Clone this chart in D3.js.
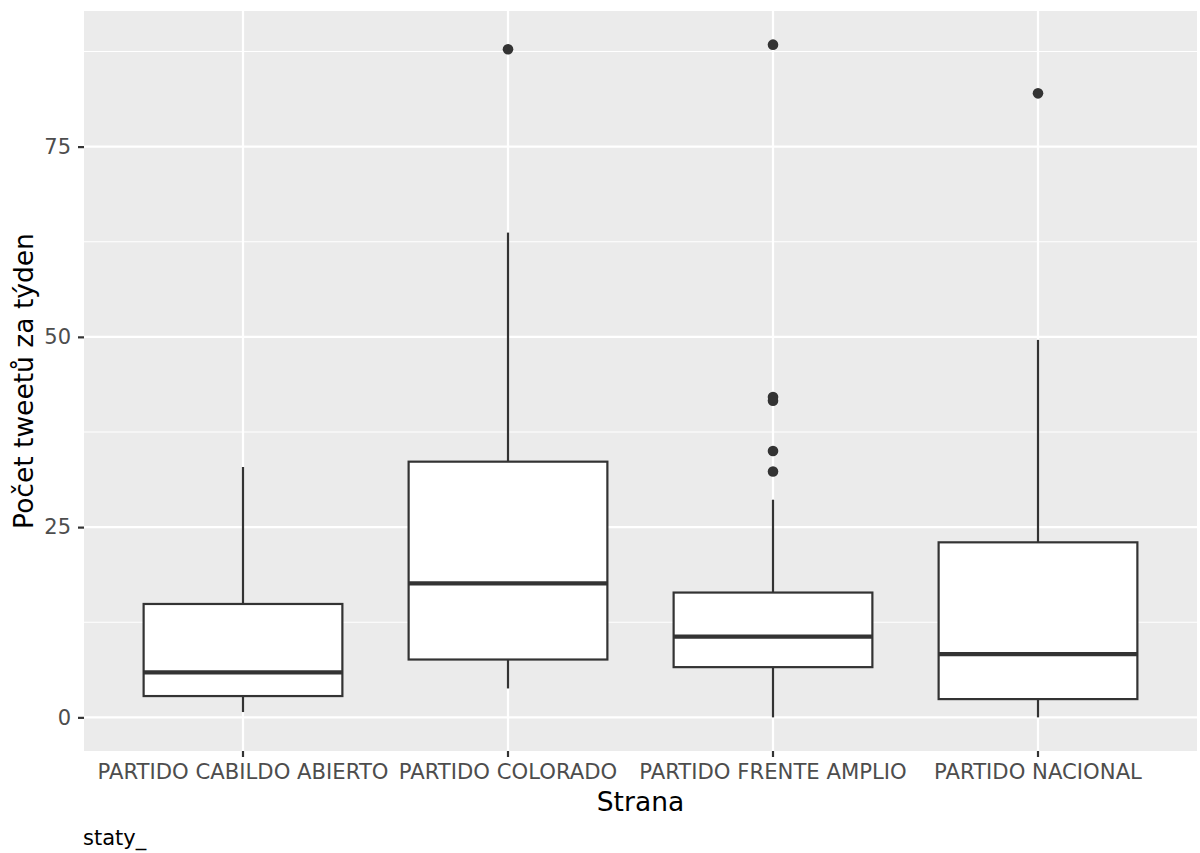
<!DOCTYPE html>
<html>
<head>
<meta charset="utf-8">
<script src="https://cdn.jsdelivr.net/npm/d3@7"></script>
<style>
  html, body { margin: 0; padding: 0; background: #ffffff; }
  svg { display: block; font-family: "DejaVu Sans", sans-serif; }
</style>
</head>
<body>
<svg id="chart" width="1200" height="853"></svg>
<script>
// ---- data ----
const categories = ["PARTIDO CABILDO ABIERTO", "PARTIDO COLORADO", "PARTIDO FRENTE AMPLIO", "PARTIDO NACIONAL"];
const whiskerLow  = [0.7, 3.8, 0.0, 0.0];
const q1          = [2.8, 7.6, 6.6, 2.4];
const median      = [5.9, 17.6, 10.6, 8.3];
const q3          = [14.9, 33.6, 16.4, 23.0];
const whiskerHigh = [32.9, 63.7, 28.6, 49.6];
const outliers    = [[], [87.8], [32.3, 35.0, 41.6, 42.1, 88.4], [82.0]];
const yTicks      = [0, 25, 50, 75];
const yMinor      = [12.5, 37.5, 62.5, 87.5];
const xTitle = "Strana";
const yTitle = "Počet tweetů za týden";
const caption = "staty_";

// ---- layout ----
const panel = { left: 84, right: 1197, top: 11, bottom: 751 };
const svg = d3.select("#chart");

const allVals = whiskerLow.concat(whiskerHigh, outliers.flat());
const dmin = d3.min(allVals), dmax = d3.max(allVals);
const pad = (dmax - dmin) * 0.05;
const y = d3.scaleLinear().domain([dmin - pad, dmax + pad]).range([panel.bottom, panel.top]);
const x = d3.scaleBand().domain(categories).range([panel.left, panel.right]).paddingInner(0).paddingOuter(0.1);
const cx = c => x(c) + x.bandwidth() / 2;
const boxW = x.bandwidth() * 0.75;

// panel background
svg.append("rect").attr("x", panel.left).attr("y", panel.top)
  .attr("width", panel.right - panel.left).attr("height", panel.bottom - panel.top)
  .attr("fill", "#EBEBEB");

// minor grid
svg.append("g").selectAll("line").data(yMinor).join("line")
  .attr("x1", panel.left).attr("x2", panel.right)
  .attr("y1", d => y(d)).attr("y2", d => y(d))
  .attr("stroke", "#ffffff").attr("stroke-width", 1.1);

// major grid
svg.append("g").selectAll("line").data(yTicks).join("line")
  .attr("x1", panel.left).attr("x2", panel.right)
  .attr("y1", d => y(d)).attr("y2", d => y(d))
  .attr("stroke", "#ffffff").attr("stroke-width", 2.2);
svg.append("g").selectAll("line").data(categories).join("line")
  .attr("x1", d => cx(d)).attr("x2", d => cx(d))
  .attr("y1", panel.top).attr("y2", panel.bottom)
  .attr("stroke", "#ffffff").attr("stroke-width", 2.2);

// boxes
const idx = d3.range(categories.length);
const g = svg.append("g");
const col = "#333333";
idx.forEach(i => {
  const c = categories[i];
  const xc = cx(c);
  g.append("line").attr("x1", xc).attr("x2", xc).attr("y1", y(q3[i])).attr("y2", y(whiskerHigh[i]))
    .attr("stroke", col).attr("stroke-width", 2.2);
  g.append("line").attr("x1", xc).attr("x2", xc).attr("y1", y(q1[i])).attr("y2", y(whiskerLow[i]))
    .attr("stroke", col).attr("stroke-width", 2.2);
  g.append("rect").attr("x", xc - boxW / 2).attr("y", y(q3[i]))
    .attr("width", boxW).attr("height", y(q1[i]) - y(q3[i]))
    .attr("fill", "#ffffff").attr("stroke", col).attr("stroke-width", 2.2);
  g.append("line").attr("x1", xc - boxW / 2).attr("x2", xc + boxW / 2)
    .attr("y1", y(median[i])).attr("y2", y(median[i]))
    .attr("stroke", col).attr("stroke-width", 4.3);
  g.selectAll(null).data(outliers[i]).join("circle")
    .attr("cx", xc).attr("cy", d => y(d)).attr("r", 5.3).attr("fill", col);
});

// y axis
const yAxis = d3.axisLeft(y).tickValues(yTicks).tickSize(6).tickPadding(7).tickFormat(d3.format("d"));
const ya = svg.append("g").attr("transform", `translate(${panel.left},0)`).call(yAxis);
ya.select(".domain").remove();
ya.attr("font-size", null).attr("font-family", null);
ya.selectAll(".tick line").attr("stroke", col).attr("stroke-width", 2.2);
ya.selectAll(".tick text").attr("fill", "#4D4D4D").style("font-size", "21px");

// x axis
const xAxis = d3.axisBottom(x).tickSize(6).tickPadding(7);
const xa = svg.append("g").attr("transform", `translate(0,${panel.bottom})`).call(xAxis);
xa.select(".domain").remove();
xa.attr("font-size", null).attr("font-family", null);
xa.selectAll(".tick line").attr("stroke", col).attr("stroke-width", 2.2);
xa.selectAll(".tick text").attr("fill", "#4D4D4D").style("font-size", "21.2px");

// titles
svg.append("text").attr("x", (panel.left + panel.right) / 2).attr("y", 811)
  .attr("text-anchor", "middle").attr("fill", "#000").style("font-size", "26.5px").text(xTitle);
svg.append("text").attr("transform", `translate(33,${(panel.top + panel.bottom) / 2}) rotate(-90)`)
  .attr("text-anchor", "middle").attr("fill", "#000").style("font-size", "26.5px").text(yTitle);
svg.append("text").attr("x", 83).attr("y", 845)
  .attr("text-anchor", "start").attr("fill", "#000").style("font-size", "21px").text(caption);
</script>
</body>
</html>
